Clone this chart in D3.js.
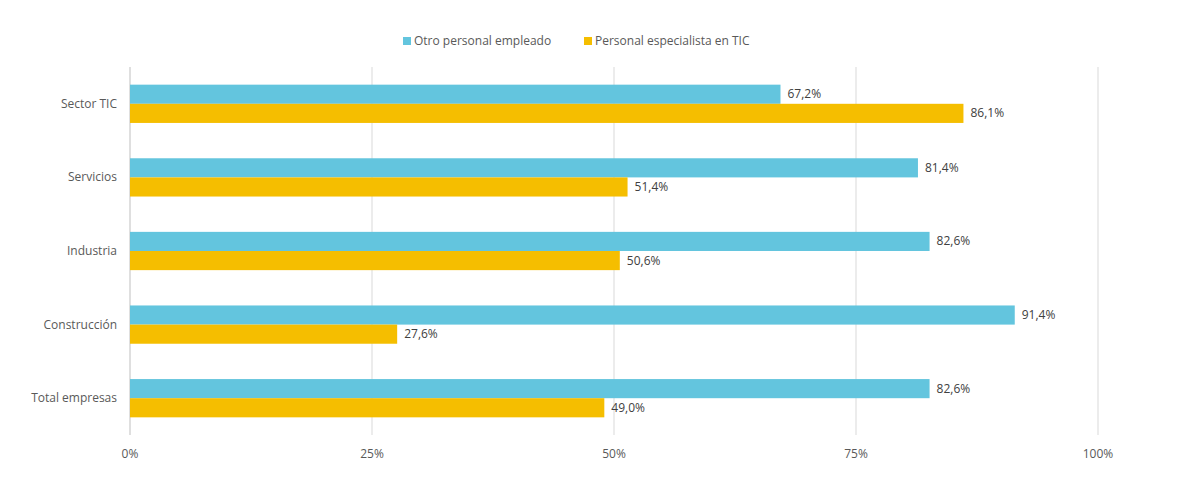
<!DOCTYPE html>
<meta charset="utf-8">
<body style="margin:0;background:#fff;">
<script src="https://cdn.jsdelivr.net/npm/d3@7"></script>
<div id="chart"></div>
<script>
var categories = ["Sector TIC", "Servicios", "Industria", "Construcción", "Total empresas"];
var otro = [67.2, 81.4, 82.6, 91.4, 82.6];
var especialista = [86.1, 51.4, 50.6, 27.6, 49.0];
var series = ["Otro personal empleado", "Personal especialista en TIC"];
var colors = ["#63C5DE", "#F5BE00"];
var ticks = [0, 25, 50, 75, 100];

var W = 1180, H = 488;
var svg = d3.select("#chart").append("svg").attr("width", W).attr("height", H)
    .style("font-family", "'Open Sans', sans-serif").style("font-size", "12px");

var x = d3.scaleLinear().domain([0, 100]).range([130, 1098]);
var y = d3.scaleBand().domain(categories).range([67, 435]).paddingInner(0.48).paddingOuter(0.24);
var sub = d3.scaleBand().domain(series).range([0, y.bandwidth()]);

// grid
svg.selectAll(".grid").data(ticks).enter().append("line")
    .attr("x1", d => x(d)).attr("x2", d => x(d)).attr("y1", 67).attr("y2", 435)
    .attr("stroke", d => d === 0 ? "#bfbfbf" : "#d9d9d9");

svg.selectAll(".tick").data(ticks).enter().append("text")
    .attr("x", d => x(d)).attr("y", 458).attr("text-anchor", "middle")
    .attr("fill", "#595959").text(d => d + "%");

svg.selectAll(".cat").data(categories).enter().append("text")
    .attr("x", 117).attr("y", d => y(d) + y.bandwidth() / 2 + 4).attr("text-anchor", "end")
    .attr("fill", "#595959").text(d => d);

[otro, especialista].forEach(function (vals, i) {
    var g = svg.append("g");
    g.selectAll("rect").data(vals).enter().append("rect")
        .attr("x", x(0)).attr("y", (d, j) => y(categories[j]) + sub(series[i]))
        .attr("width", d => x(d) - x(0)).attr("height", sub.bandwidth())
        .attr("fill", colors[i]);
    g.selectAll("text").data(vals).enter().append("text")
        .attr("x", d => x(d) + 7).attr("y", (d, j) => y(categories[j]) + sub(series[i]) + sub.bandwidth() / 2 + 4)
        .attr("fill", "#404040").text(d => d.toFixed(1).replace(".", ",") + "%");
});

// legend
var lx = [403, 584];
series.forEach(function (s, i) {
    svg.append("rect").attr("x", lx[i]).attr("y", 37).attr("width", 8).attr("height", 8).attr("fill", colors[i]);
    svg.append("text").attr("x", lx[i] + 11).attr("y", 45).attr("fill", "#595959").text(s);
});
</script>
